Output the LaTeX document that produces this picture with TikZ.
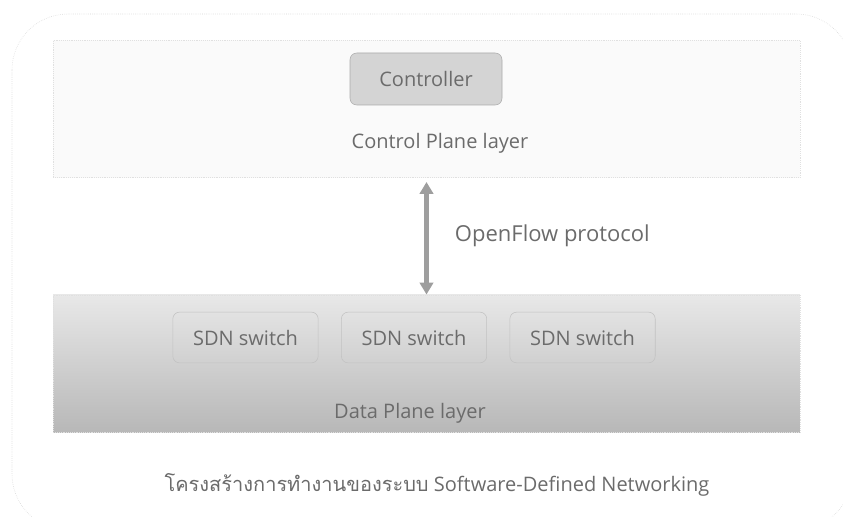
\documentclass[tikz,border=0pt]{standalone}
\usepackage{fontspec}
\setmainfont{Open Sans}
\newfontfamily\thaifont[Script=Thai]{Loma}
\usetikzlibrary{positioning,arrows.meta,backgrounds}

\begin{document}
\begin{tikzpicture}[
  x=0.75pt, y=-0.75pt,
  font=\fontsize{15}{18}\selectfont,
  text=black!58,
  node distance=17pt,
  frame/.style  ={draw=black!18, densely dotted, rounded corners=42pt},
  layer/.style  ={rectangle, draw=black!12, densely dotted, minimum width=560pt,
                  minimum height=103pt, inner sep=0pt},
  ctrlbox/.style={rectangle, rounded corners=5pt, draw=black!33, fill=black!17,
                  minimum width=114pt, minimum height=39pt, inner sep=2pt},
  swbox/.style  ={rectangle, rounded corners=5pt, draw=black!24,
                  minimum width=109pt, minimum height=38pt, inner sep=2pt},
  dbl/.style    ={{Triangle[length=9pt,width=10pt]}-{Triangle[length=9pt,width=10pt]},
                  line width=4pt, draw=black!38, shorten <=3pt},
]
\useasboundingbox (0,0) rectangle (843,517);

% ---------------- outer frame ----------------
\draw[frame] (12,14) rectangle (852,530);

% ---------------- control plane (top) ----------------
\node[layer, fill=black!2] (cpl) at (426.5,109) {};
\node[ctrlbox] (ctrl) at (426,79) {Controller};
\node (cpltxt) at (440,143) {Control Plane layer};

% ---------------- data plane (bottom) ----------------
\node[layer, top color=black!9, bottom color=black!28] (dpl) at (426.5,363.5) {};
\node[swbox] (sw1) at (245.5,337.5) {SDN switch};
\node[swbox, right=of sw1] (sw2) {SDN switch};
\node[swbox, right=of sw2] (sw3) {SDN switch};
\node (dpltxt) at (410,413) {Data Plane layer};

% ---------------- protocol between the layers ----------------
\draw[dbl] (cpl.south) -- node[right=16pt, font=\fontsize{16.5}{19}\selectfont] (ofp)
  {OpenFlow protocol} (dpl.north);

% ---------------- caption ----------------
\node (cap) at (437,485) {{\thaifont โครงสร้างการทำงานของระบบ} Software-Defined Networking};

\end{tikzpicture}
\end{document}
